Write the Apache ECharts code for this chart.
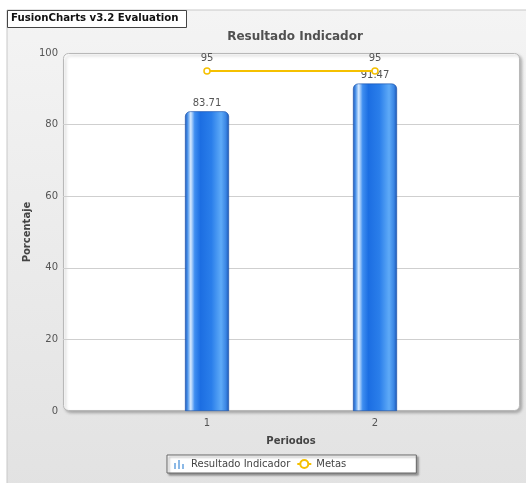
<!DOCTYPE html>
<html>
<head>
<meta charset="utf-8">
<script src="https://cdn.jsdelivr.net/npm/echarts@6/dist/echarts.min.js"></script>
<style>
  html, body { margin: 0; padding: 0; background: #ffffff; }
  #chart { width: 526px; height: 483px; }
</style>
</head>
<body>
<div id="chart"></div>
<script>
// Periods and values
const periodos = ['1', '2'];
const resultadoIndicador = [83.71, 91.47];
const metas = [95, 95];
const yTicks = [0, 20, 40, 60, 80, 100];

const FONT = 'DejaVu Sans';
const chart = echarts.init(document.getElementById('chart'), null, { renderer: 'canvas' });

const barFill = new echarts.graphic.LinearGradient(0, 0, 1, 0, [
  { offset: 0.00, color: '#1a56b8' },
  { offset: 0.06, color: '#4d94ea' },
  { offset: 0.13, color: '#d6eaff' },
  { offset: 0.22, color: '#3f8ef0' },
  { offset: 0.35, color: '#1c6ee2' },
  { offset: 0.60, color: '#2a7eea' },
  { offset: 0.82, color: '#5eaaf7' },
  { offset: 0.93, color: '#3b86e4' },
  { offset: 1.00, color: '#1a54b0' }
]);

// small column-chart glyph for the legend
const barIcon = 'image://data:image/svg+xml;utf8,' + encodeURIComponent(
  '<svg xmlns="http://www.w3.org/2000/svg" width="10" height="10">' +
  '<rect x="0" y="4" width="2" height="6" fill="#8cb9e6"/>' +
  '<rect x="4" y="1" width="2" height="9" fill="#8cb9e6"/>' +
  '<rect x="8" y="5" width="2" height="5" fill="#8cb9e6"/>' +
  '</svg>');

const option = {
  animation: false,
  textStyle: { fontFamily: FONT },
  graphic: [
    // canvas background panel
    {
      type: 'rect', z: -10,
      shape: { x: 7, y: 10, width: 530, height: 480 },
      style: {
        fill: new echarts.graphic.LinearGradient(0, 0, 0, 1, [
          { offset: 0, color: '#f4f4f4' },
          { offset: 1, color: '#e2e2e2' }
        ]),
        stroke: '#c8c8c8', lineWidth: 1
      }
    },
    // plot area
    {
      type: 'rect', z: -5,
      shape: { x: 63.5, y: 53.5, width: 456, height: 357, r: 5 },
      style: {
        fill: '#ffffff', stroke: '#b8b8b8', lineWidth: 1,
        shadowColor: 'rgba(0,0,0,0.25)', shadowBlur: 3, shadowOffsetX: 2, shadowOffsetY: 2
      }
    },
    // evaluation badge
    {
      type: 'group', left: 7, top: 10, z: 100,
      children: [
        { type: 'rect', shape: { x: 0.5, y: 0.5, width: 179, height: 17 },
          style: { fill: '#ffffff', stroke: '#444444', lineWidth: 1 } },
        { type: 'text', x: 4, y: 3.5,
          style: { text: 'FusionCharts v3.2 Evaluation', fill: '#111111',
                   font: 'bold 10.2px "DejaVu Sans"' } }
      ]
    },
    // y axis name
    {
      type: 'text', x: 27, y: 232, rotation: Math.PI / 2, z: 50,
      style: { text: 'Porcentaje', fill: '#444444', font: 'bold 10px "DejaVu Sans"',
               align: 'center', verticalAlign: 'middle' }
    }
  ],
  title: {
    text: 'Resultado Indicador',
    left: 290, top: 26, textAlign: 'center',
    textStyle: { fontFamily: FONT, fontSize: 12, fontWeight: 'bold', color: '#505050' }
  },
  legend: {
    left: 167, top: 455,
    padding: [4, 70, 4, 5],
    itemGap: 6,
    itemWidth: 14, itemHeight: 10,
    backgroundColor: '#ffffff',
    borderColor: '#666666', borderWidth: 1,
    shadowColor: 'rgba(0,0,0,0.35)', shadowBlur: 2, shadowOffsetX: 2, shadowOffsetY: 2,
    textStyle: { fontFamily: FONT, fontSize: 10, color: '#444444' },
    data: [
      { name: 'Resultado Indicador', icon: barIcon },
      { name: 'Metas' }
    ]
  },
  grid: [
    { left: 63, right: 6, top: 53, bottom: 72, show: false },
    { left: 123, right: 67, top: 53, bottom: 72, show: false }
  ],
  xAxis: [
    {
      gridIndex: 0, type: 'category', data: [''],
      axisLine: { show: false }, axisTick: { show: false }, axisLabel: { show: false }
    },
    {
      gridIndex: 1, type: 'category', data: periodos,
      name: 'Periodos', nameLocation: 'middle', nameGap: 25,
      nameTextStyle: { fontFamily: FONT, fontSize: 10, fontWeight: 'bold', color: '#444444' },
      axisLine: { show: false }, axisTick: { show: false },
      axisLabel: { fontFamily: FONT, fontSize: 10, color: '#555555', margin: 7 }
    }
  ],
  yAxis: [
    {
      gridIndex: 0, type: 'value', min: 0, max: 100, interval: 20,
      axisLine: { show: false }, axisTick: { show: false },
      axisLabel: { fontFamily: FONT, fontSize: 10, color: '#555555', margin: 5,
                   formatter: v => yTicks.includes(v) ? String(v) : '' },
      splitLine: {
        show: true,
        lineStyle: { color: '#cfcfcf', width: 1 },
        showMinLine: false, showMaxLine: false
      }
    },
    {
      gridIndex: 1, type: 'value', min: 0, max: 100, interval: 20, show: false,
      splitLine: { show: false }
    }
  ],
  series: [
    {
      name: 'Resultado Indicador', type: 'bar',
      xAxisIndex: 1, yAxisIndex: 1,
      data: resultadoIndicador,
      barWidth: 44,
      itemStyle: { color: barFill, borderRadius: [5, 5, 0, 0],
                   borderColor: '#1a4fa6', borderWidth: 0.6 },
      label: { show: true, position: 'top', distance: 3,
               fontFamily: FONT, fontSize: 10, color: '#555555',
               formatter: p => p.value.toFixed(2) },
      z: 2
    },
    {
      name: 'Metas', type: 'line',
      xAxisIndex: 1, yAxisIndex: 1,
      data: metas,
      symbol: 'circle', symbolSize: 6,
      lineStyle: { color: '#f5c000', width: 2 },
      itemStyle: { color: '#ffffff', borderColor: '#f5c000', borderWidth: 1.5 },
      label: { show: true, position: 'top', distance: 4,
               fontFamily: FONT, fontSize: 10, color: '#555555' },
      z: 5
    }
  ]
};

chart.setOption(option);
</script>
</body>
</html>
